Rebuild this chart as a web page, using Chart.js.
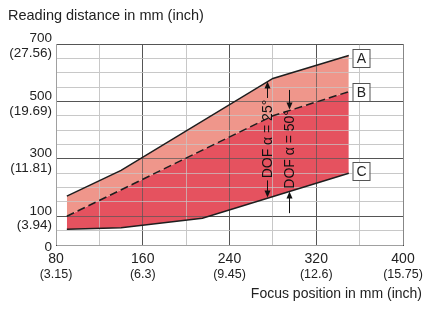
<!DOCTYPE html>
<html><head><meta charset="utf-8">
<style>html,body{margin:0;padding:0;background:#fff;}canvas{display:block;}</style>
<script src="https://cdn.jsdelivr.net/npm/chart.js@4/dist/chart.umd.min.js"></script>
</head><body>
<canvas id="c" width="426" height="310"></canvas>
<script>
// ---- data ----
const xA = [90, 140, 280, 350];
const yA = [170, 260, 580, 660];
const xB = [90, 280, 350];
const yB = [100, 450, 534];
const xC = [90, 140, 215, 350];
const yC = [55, 60, 93, 250];
const xTickVals = [80, 160, 240, 320, 400];
const xTickMm = ['80', '160', '240', '320', '400'];
const xTickInch = ['(3.15)', '(6.3)', '(9.45)', '(12.6)', '(15.75)'];
const yTickVals = [0, 100, 300, 500, 700];
const yTickMm = ['0', '100', '300', '500', '700'];
const yTickInch = ['', '(3.94)', '(11.81)', '(19.69)', '(27.56)'];
const seriesNames = ['A', 'B', 'C'];
const dofTexts = ['DOF α = 25°', 'DOF α = 50°'];
const yTitle = 'Reading distance in mm (inch)';
const xTitle = 'Focus position in mm (inch)';

// ---- annotation placement (data units) ----
const boxAnchors = [{x: 361.5, y: 650}, {x: 361.5, y: 534}, {x: 361.5, y: 258}];
const dofMarks = [
  {x: 275, textY: 369, arrows: [{from: 512, to: 569}, {from: 225, to: 165}]},
  {x: 294.5, textY: 333, arrows: [{from: 540, to: 472}, {from: 111, to: 186}]}
];

const pts = (xs, ys) => xs.map((x, i) => ({x, y: ys[i]}));
const FONT = "'Liberation Sans', Arial, sans-serif";
const LINE = '#1e1e1e';

const overlay = {
  id: 'overlay',
  afterDatasetDraw(chart, args) {
    if (args.index !== 3) return;
    const ctx = chart.ctx;
    ctx.save();
    ctx.globalAlpha = 0.7;
    chart.scales.x.drawGrid(chart.chartArea);
    chart.scales.y.drawGrid(chart.chartArea);
    ctx.restore();
  },
  afterDatasetsDraw(chart) {
    const ctx = chart.ctx, sx = chart.scales.x, sy = chart.scales.y;
    ctx.save();
    ctx.font = '14px ' + FONT;
    ctx.textAlign = 'center';
    ctx.textBaseline = 'middle';
    boxAnchors.forEach((a, i) => {
      const px = Math.round(sx.getPixelForValue(a.x)), py = Math.round(sy.getPixelForValue(a.y));
      ctx.fillStyle = '#fff';
      ctx.fillRect(px - 8.5, py - 9, 17, 18);
      ctx.strokeStyle = '#555';
      ctx.lineWidth = 1;
      ctx.strokeRect(px - 8, py - 8.5, 17, 18);
      ctx.fillStyle = '#222';
      ctx.fillText(seriesNames[i], px + 0.5, py + 1);
    });
    dofMarks.forEach((m, i) => {
      const px = Math.round(sx.getPixelForValue(m.x)) + 0.5;
      m.arrows.forEach(a => {
        const p0 = sy.getPixelForValue(a.from), p1 = sy.getPixelForValue(a.to);
        const dir = p1 > p0 ? 1 : -1;
        ctx.strokeStyle = '#111';
        ctx.lineWidth = 1;
        ctx.beginPath();
        ctx.moveTo(px, p0);
        ctx.lineTo(px, p1 - dir * 5);
        ctx.stroke();
        ctx.fillStyle = '#111';
        ctx.beginPath();
        ctx.moveTo(px, p1);
        ctx.lineTo(px - 3, p1 - dir * 7);
        ctx.lineTo(px + 3, p1 - dir * 7);
        ctx.closePath();
        ctx.fill();
      });
      ctx.save();
      ctx.translate(px, sy.getPixelForValue(m.textY));
      ctx.rotate(-Math.PI / 2);
      ctx.fillStyle = '#111';
      ctx.font = '14px ' + FONT;
      ctx.textAlign = 'center';
      ctx.textBaseline = 'middle';
      ctx.fillText(dofTexts[i], 0, 1);
      ctx.restore();
    });
    ctx.restore();
  }
};

const darkX = [160, 240, 320];
const darkY = [100, 300, 500, 700];

new Chart(document.getElementById('c'), {
  type: 'line',
  data: {
    datasets: [
      {data: pts(xA, yA), borderColor: LINE, borderWidth: 1.5, pointRadius: 0, fill: false, tension: 0},
      {data: pts(xB, yB), borderColor: LINE, borderWidth: 1.5, borderDash: [8, 4], pointRadius: 0, fill: false, tension: 0},
      {data: pts(xC, yC), borderColor: LINE, borderWidth: 1.5, pointRadius: 0, fill: false, tension: 0},
      {data: pts(xA, yA), borderColor: 'rgba(0,0,0,0)', borderWidth: 0, pointRadius: 0, fill: 1, backgroundColor: '#EF968B', tension: 0},
      {data: pts(xB, yB), borderColor: 'rgba(0,0,0,0)', borderWidth: 0, pointRadius: 0, fill: 2, backgroundColor: '#E5525F', tension: 0}
    ]
  },
  options: {
    responsive: false,
    animation: false,
    events: [],
    layout: {padding: {left: 8, right: 4, top: 0, bottom: 0}},
    plugins: {
      legend: {display: false},
      tooltip: {enabled: false},
      title: {display: true, text: yTitle, align: 'start', color: '#222',
        font: {family: FONT, size: 14.5, weight: 'normal', lineHeight: 1.2}, padding: {top: 7, bottom: 19.6}},
      subtitle: {display: true, text: xTitle, position: 'bottom', align: 'end', color: '#222',
        font: {family: FONT, size: 14, weight: 'normal', lineHeight: 1.2}, padding: {top: 4, bottom: 7.2}}
    },
    scales: {
      x: {
        type: 'linear', position: 'bottom', min: 80, max: 400,
        ticks: {stepSize: 40, autoSkip: false, maxRotation: 0, padding: 6, color: '#222',
          font: {family: FONT, size: 14, lineHeight: 1.2},
          callback: v => { const i = xTickVals.indexOf(v); return i >= 0 ? xTickMm[i] : ''; }},
        grid: {drawTicks: false, lineWidth: 1,
          color: c => darkX.includes(c.tick.value) ? '#555' : (c.tick.value === 400 ? '#888' : '#c8c8c8')},
        border: {color: '#444', width: 1},
        afterFit: s => { s.paddingRight = 23; s.height = 21; }
      },
      x2: {
        type: 'linear', position: 'bottom', min: 80, max: 400, weight: 1,
        ticks: {stepSize: 40, autoSkip: false, maxRotation: 0, padding: 1, color: '#222',
          font: {family: FONT, size: 12.5, lineHeight: 1.2},
          callback: v => { const i = xTickVals.indexOf(v); return i >= 0 ? xTickInch[i] : ''; }},
        grid: {display: false, drawTicks: false},
        border: {display: false},
        afterFit: s => { s.paddingRight = 23; s.height = 16; }
      },
      y: {
        type: 'linear', min: 0, max: 700,
        ticks: {stepSize: 50, autoSkip: false, padding: 4, labelOffset: 2, color: '#222',
          font: {family: FONT, size: 13.5, lineHeight: 1.1},
          callback: v => { const i = yTickVals.indexOf(v); if (i < 0) return ''; return yTickInch[i] ? [yTickMm[i], yTickInch[i]] : yTickMm[i]; }},
        grid: {drawTicks: false, lineWidth: 1,
          color: c => darkY.includes(c.tick.value) ? '#555' : '#c8c8c8'},
        border: {color: '#444', width: 1},
        afterFit: s => { s.width = 48; }
      }
    }
  },
  plugins: [overlay]
});
</script>
</body></html>
